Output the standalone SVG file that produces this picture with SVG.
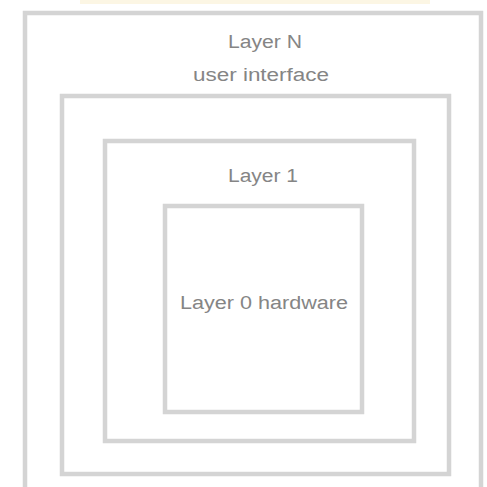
<svg xmlns="http://www.w3.org/2000/svg" width="487" height="487" viewBox="0 0 487 487">
<style>
.box{fill:none;stroke:#d4d4d4;stroke-width:4.5}
.t{font-family:"Liberation Sans",Arial,sans-serif;font-size:18px;fill:#858585;text-anchor:middle}
</style>
<rect width="487" height="487" fill="#ffffff"/>
<rect x="80" y="0" width="350" height="4" fill="#fcf6e4"/>
<g id="layerN">
<rect class="box" x="25" y="13" width="456" height="490"/>
<text class="t" x="265" y="48" textLength="74" lengthAdjust="spacingAndGlyphs">Layer N</text>
<text class="t" x="261" y="81" textLength="136" lengthAdjust="spacingAndGlyphs">user interface</text>
</g>
<g id="layer2">
<rect class="box" x="62" y="96" width="387" height="378"/>
</g>
<g id="layer1">
<rect class="box" x="105" y="141" width="309" height="300"/>
<text class="t" x="263" y="182" textLength="70" lengthAdjust="spacingAndGlyphs">Layer 1</text>
</g>
<g id="layer0">
<rect class="box" x="165" y="206" width="197" height="206"/>
<text class="t" x="264" y="309" textLength="168" lengthAdjust="spacingAndGlyphs">Layer 0 hardware</text>
</g>
<g id="connectors"></g>
</svg>
